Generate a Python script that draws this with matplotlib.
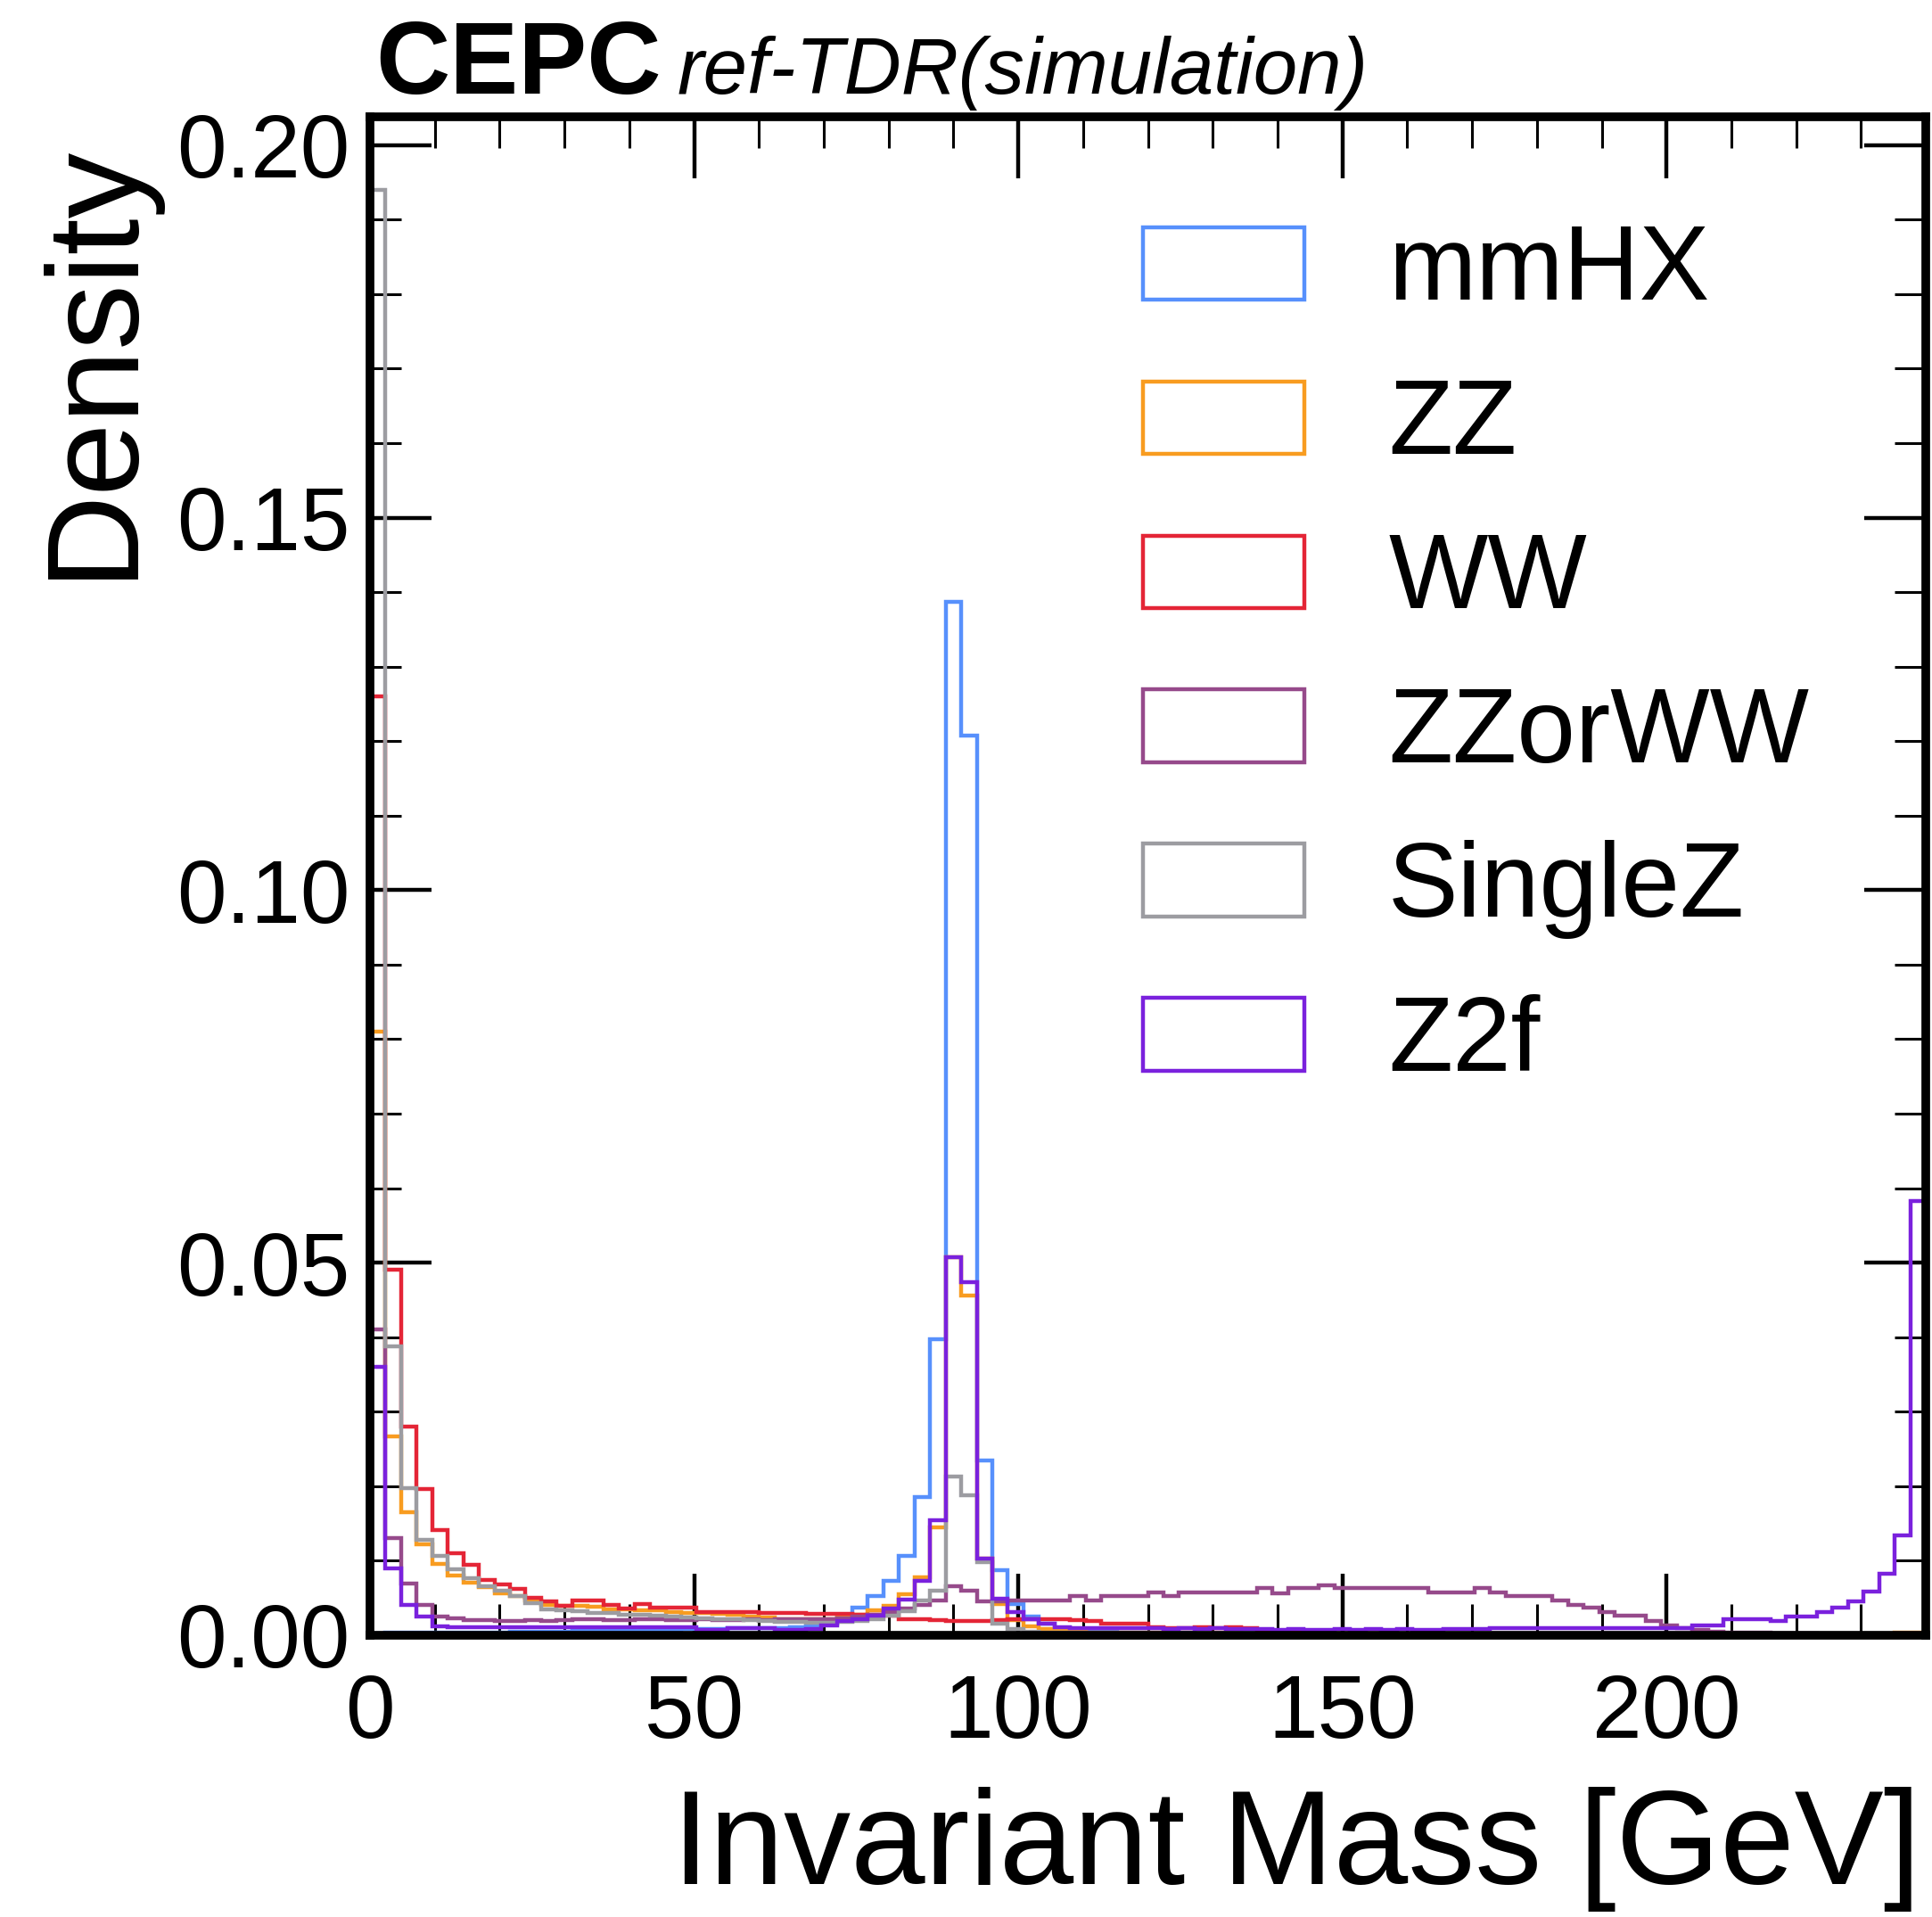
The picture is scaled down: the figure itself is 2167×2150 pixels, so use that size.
import matplotlib

matplotlib.use("Agg")
import matplotlib.pyplot as plt
import numpy as np
from matplotlib.ticker import MultipleLocator, FormatStrFormatter

# --- binning: 100 bins of 2.4 GeV between 0 and 240 GeV ---
BIN_EDGES = np.linspace(0, 240, 101)

SAMPLES = ["mmHX", "ZZ", "WW", "ZZorWW", "SingleZ", "Z2f"]
COLORS = ["#5790fc", "#f89c20", "#e42536", "#964a8b", "#9c9ca1", "#7a21dd"]

# density per bin
MMHX = [
    0.0002, 0.0003, 0.0003, 0.0003, 0.0003, 0.0004, 0.0004, 0.0004, 0.0004, 0.0005,
    0.0005, 0.0005, 0.0005, 0.0006, 0.0006, 0.0006, 0.0006, 0.0007, 0.0007, 0.0007,
    0.0008, 0.0008, 0.0008, 0.0009, 0.0009, 0.0010, 0.0010, 0.0011, 0.0012, 0.0015,
    0.0025, 0.0037, 0.0052, 0.0073, 0.0106, 0.0186, 0.0397, 0.1387, 0.1207, 0.0234,
    0.0087, 0.0042, 0.0025, 0.0015, 0.0010, 0.0008, 0.0006, 0.0005, 0.0004, 0.0004,
    0.0003, 0.0003, 0.0003, 0.0002, 0.0002, 0.0002, 0.0002, 0.0002, 0.0001, 0.0001,
    0.0001, 0.0001, 0.0001, 0.0001, 0.0001, 0.0001, 0.0001, 0.0001, 0.0001, 0.0001,
    0.0, 0.0, 0.0, 0.0, 0.0, 0.0, 0.0, 0.0, 0.0, 0.0,
    0.0, 0.0, 0.0, 0.0, 0.0, 0.0, 0.0, 0.0, 0.0, 0.0,
    0.0, 0.0, 0.0, 0.0, 0.0, 0.0, 0.0, 0.0, 0.0, 0.0,
]
ZZ = [
    0.0810, 0.0267, 0.0165, 0.0122, 0.0096, 0.0080, 0.0070, 0.0064, 0.0056, 0.0052,
    0.0047, 0.0041, 0.0039, 0.0039, 0.0038, 0.0035, 0.0035, 0.0034, 0.0034, 0.0031,
    0.0030, 0.0030, 0.0029, 0.0027, 0.0025, 0.0024, 0.0022, 0.0021, 0.0021, 0.0022,
    0.0024, 0.0027, 0.0033, 0.0040, 0.0055, 0.0078, 0.0145, 0.0507, 0.0456, 0.0103,
    0.0042, 0.0020, 0.0012, 0.0008, 0.0006, 0.0005, 0.0004, 0.0004, 0.0003, 0.0003,
    0.0003, 0.0002, 0.0002, 0.0002, 0.0002, 0.0002, 0.0001, 0.0001, 0.0001, 0.0001,
    0.0001, 0.0001, 0.0001, 0.0001, 0.0001, 0.0001, 0.0001, 0.0001, 0.0001, 0.0001,
    0.0001, 0.0001, 0.0001, 0.0001, 0.0001, 0.0001, 0.0001, 0.0001, 0.0001, 0.0001,
    0.0001, 0.0001, 0.0001, 0.0001, 0.0001, 0.0001, 0.0001, 0.0001, 0.0001, 0.0001,
    0.0001, 0.0001, 0.0001, 0.0001, 0.0001, 0.0001, 0.0001, 0.0001, 0.0003, 0.0003,
]
WW = [
    0.1260, 0.0490, 0.0280, 0.0196, 0.0141, 0.0110, 0.0094, 0.0074, 0.0068, 0.0062,
    0.0050, 0.0045, 0.0040, 0.0047, 0.0047, 0.0041, 0.0036, 0.0042, 0.0037, 0.0037,
    0.0037, 0.0031, 0.0031, 0.0031, 0.0031, 0.0030, 0.0030, 0.0030, 0.0029, 0.0029,
    0.0029, 0.0028, 0.0028, 0.0026, 0.0022, 0.0021, 0.0020, 0.0019, 0.0019, 0.0019,
    0.0020, 0.0021, 0.0021, 0.0021, 0.0021, 0.0020, 0.0019, 0.0016, 0.0015, 0.0015,
    0.0011, 0.0010, 0.0010, 0.0011, 0.0010, 0.0011, 0.0010, 0.0006, 0.0004, 0.0003,
    0.0003, 0.0002, 0.0002, 0.0002, 0.0002, 0.0002, 0.0001, 0.0001, 0.0001, 0.0001,
    0.0001, 0.0001, 0.0001, 0.0001, 0.0001, 0.0, 0.0, 0.0, 0.0, 0.0,
    0.0, 0.0, 0.0, 0.0, 0.0, 0.0, 0.0, 0.0, 0.0, 0.0,
    0.0, 0.0, 0.0, 0.0, 0.0, 0.0, 0.0, 0.0, 0.0, 0.0,
]
ZZORWW = [
    0.0410, 0.0130, 0.0069, 0.0041, 0.0025, 0.0023, 0.0020, 0.0020, 0.0019, 0.0019,
    0.0020, 0.0019, 0.0020, 0.0021, 0.0021, 0.0020, 0.0020, 0.0021, 0.0021, 0.0020,
    0.0020, 0.0021, 0.0020, 0.0020, 0.0021, 0.0020, 0.0021, 0.0021, 0.0022, 0.0022,
    0.0023, 0.0025, 0.0028, 0.0031, 0.0036, 0.0041, 0.0047, 0.0066, 0.0060, 0.0046,
    0.0045, 0.0047, 0.0047, 0.0047, 0.0047, 0.0053, 0.0047, 0.0053, 0.0053, 0.0053,
    0.0057, 0.0053, 0.0057, 0.0057, 0.0057, 0.0057, 0.0057, 0.0063, 0.0056, 0.0063,
    0.0063, 0.0067, 0.0063, 0.0063, 0.0063, 0.0063, 0.0063, 0.0063, 0.0057, 0.0057,
    0.0057, 0.0063, 0.0057, 0.0052, 0.0052, 0.0052, 0.0047, 0.0041, 0.0037, 0.0031,
    0.0026, 0.0026, 0.0019, 0.0013, 0.0009, 0.0007, 0.0005, 0.0004, 0.0003, 0.0003,
    0.0002, 0.0002, 0.0002, 0.0001, 0.0001, 0.0001, 0.0001, 0.0001, 0.0001, 0.0001,
]
SINGLEZ = [
    0.1940, 0.0388, 0.0197, 0.0128, 0.0106, 0.0088, 0.0076, 0.0066, 0.0060, 0.0052,
    0.0043, 0.0035, 0.0033, 0.0032, 0.0030, 0.0030, 0.0028, 0.0027, 0.0026, 0.0025,
    0.0024, 0.0023, 0.0022, 0.0021, 0.0020, 0.0019, 0.0018, 0.0018, 0.0017, 0.0017,
    0.0018, 0.0019, 0.0022, 0.0026, 0.0032, 0.0047, 0.0060, 0.0213, 0.0188, 0.0098,
    0.0015, 0.0008, 0.0005, 0.0004, 0.0003, 0.0003, 0.0002, 0.0002, 0.0002, 0.0002,
    0.0001, 0.0001, 0.0001, 0.0001, 0.0001, 0.0001, 0.0001, 0.0001, 0.0001, 0.0001,
    0.0001, 0.0001, 0.0001, 0.0001, 0.0001, 0.0001, 0.0001, 0.0001, 0.0001, 0.0001,
    0.0, 0.0, 0.0, 0.0, 0.0, 0.0, 0.0, 0.0, 0.0, 0.0,
    0.0, 0.0, 0.0, 0.0, 0.0, 0.0, 0.0, 0.0, 0.0, 0.0,
    0.0, 0.0, 0.0, 0.0, 0.0, 0.0, 0.0, 0.0, 0.0, 0.0,
]
Z2F = [
    0.0360, 0.0090, 0.0041, 0.0025, 0.0012, 0.0011, 0.0011, 0.0011, 0.0011, 0.0011,
    0.0011, 0.0011, 0.0011, 0.0011, 0.0011, 0.0011, 0.0011, 0.0011, 0.0011, 0.0011,
    0.0011, 0.0007, 0.0007, 0.0010, 0.0010, 0.0010, 0.0007, 0.0007, 0.0008, 0.0013,
    0.0019, 0.0022, 0.0026, 0.0036, 0.0048, 0.0073, 0.0154, 0.0507, 0.0474, 0.0103,
    0.0049, 0.0031, 0.0022, 0.0015, 0.0011, 0.0010, 0.0010, 0.0009, 0.0010, 0.0009,
    0.0009, 0.0008, 0.0009, 0.0008, 0.0009, 0.0008, 0.0008, 0.0008, 0.0007, 0.0008,
    0.0007, 0.0007, 0.0008, 0.0007, 0.0008, 0.0007, 0.0008, 0.0007, 0.0007, 0.0008,
    0.0008, 0.0008, 0.0009, 0.0009, 0.0009, 0.0009, 0.0009, 0.0009, 0.0009, 0.0009,
    0.0009, 0.0009, 0.0009, 0.0009, 0.0010, 0.0013, 0.0013, 0.0021, 0.0021, 0.0022,
    0.0019, 0.0025, 0.0025, 0.0031, 0.0037, 0.0045, 0.0059, 0.0083, 0.0134, 0.0583,
]

X_TICKS = [0, 50, 100, 150, 200]
Y_TICKS = [0.00, 0.05, 0.10, 0.15, 0.20]

plt.rcParams["font.family"] = ["Liberation Sans", "DejaVu Sans"]


def style_axes(ax):
    for spine in ax.spines.values():
        spine.set_linewidth(3.5)
    ax.set_xlim(0, 240)
    ax.set_ylim(0, 0.2038)
    ax.set_xticks(X_TICKS)
    ax.set_yticks(Y_TICKS)
    ax.xaxis.set_minor_locator(MultipleLocator(10))
    ax.yaxis.set_minor_locator(MultipleLocator(0.01))
    ax.yaxis.set_major_formatter(FormatStrFormatter("%.2f"))
    ax.tick_params(which="both", direction="in", top=True, right=True)
    ax.tick_params(which="major", length=25, width=1.6, labelsize=36)
    ax.tick_params(which="minor", length=12.5, width=1.1)
    ax.tick_params(axis="x", which="major", pad=15)
    ax.tick_params(axis="y", which="major", pad=8)


def main():
    series = [MMHX, ZZ, WW, ZZORWW, SINGLEZ, Z2F]

    fig = plt.figure(figsize=(10.835, 10.75), dpi=200)
    ax = fig.add_axes([0.1915, 0.147, 0.8053, 0.7921])

    centers = 0.5 * (BIN_EDGES[:-1] + BIN_EDGES[1:])
    for name, values, color in zip(SAMPLES, series, COLORS):
        ax.hist(centers, bins=BIN_EDGES, weights=values, histtype="step",
                color=color, linewidth=1.6, label=name)

    style_axes(ax)

    ax.set_xlabel("Invariant Mass [GeV]", fontsize=54, loc="right")
    ax.xaxis.set_label_coords(0.997, -0.0998)
    ax.set_ylabel("Density", fontsize=53, loc="top")
    ax.yaxis.set_label_coords(-0.138, 0.984)

    ax.text(0.0034, 1.0153, "CEPC", transform=ax.transAxes, fontsize=41.5,
            fontweight="bold", ha="left", va="baseline")
    ax.text(0.1977, 1.0153, "ref-TDR(simulation)", transform=ax.transAxes,
            fontsize=32, fontstyle="italic", ha="left", va="baseline")

    ax.legend(loc="upper left", bbox_to_anchor=(0.4968, 0.9298), frameon=False,
              fontsize=42.5, borderaxespad=0, borderpad=0, handlelength=1.53,
              handleheight=0.68, handletextpad=0.8, labelspacing=0.525)

    fig.savefig("out.png", dpi=200)
    plt.close(fig)


if __name__ == "__main__":
    main()
